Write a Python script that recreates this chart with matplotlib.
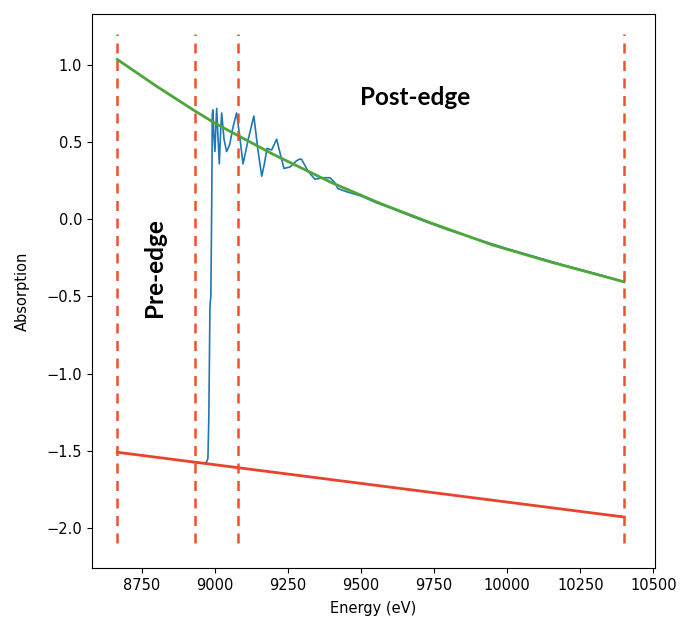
import numpy as np
import matplotlib.pyplot as plt

plt.rcParams['font.family'] = ['DejaVu Sans']

# region limits (eV)
edges = [8667, 8933, 9079, 10400]

# pre-edge line (two ends)
pre_x = [8667, 10400]
pre_y = [-1.51, -1.93]

# post-edge curve
post_x = [8667, 8800, 8935, 9007, 9200, 9400, 9564, 9735, 9950, 10146, 10400]
post_y = [1.037, 0.865, 0.70, 0.617, 0.422, 0.238, 0.105, -0.02, -0.166, -0.275, -0.405]

# measured spectrum
spec_x = [8935, 8960, 8972, 8977, 8980, 8984, 8987, 8990, 8992, 8994, 8997, 9001,
          9004, 9007, 9011, 9016, 9020, 9024, 9032, 9041, 9046, 9052, 9063, 9075,
          9085, 9097, 9115, 9134, 9148, 9161, 9170, 9179, 9195, 9212, 9225, 9237,
          9258, 9280, 9290, 9297, 9320, 9343, 9370, 9394, 9410, 9421, 9450, 9503,
          9550, 9600, 9700, 9800, 9900, 10000, 10100, 10200, 10300, 10400]
spec_y = [-1.575, -1.58, -1.575, -1.55, -1.3, -0.56, -0.5, 0.1, 0.68, 0.71, 0.55, 0.44,
          0.6, 0.72, 0.55, 0.36, 0.55, 0.69, 0.52, 0.44, 0.46, 0.49, 0.6, 0.69,
          0.55, 0.36, 0.52, 0.67, 0.45, 0.28, 0.36, 0.46, 0.45, 0.52, 0.42, 0.33,
          0.34, 0.38, 0.39, 0.39, 0.31, 0.26, 0.27, 0.27, 0.24, 0.20, 0.18, 0.15,
          0.11, 0.075, 0.0, -0.07, -0.13, -0.19, -0.245, -0.3, -0.35, -0.405]

fig = plt.figure(figsize=(6.8, 6.2), dpi=100)
ax = fig.add_axes([0.135, 0.084, 0.828, 0.893])

ax.plot(spec_x, spec_y, color='#1f77b4', lw=1.2)
ax.plot(pre_x, pre_y, color='#e8432d', lw=2)
ax.plot(post_x, post_y, color='#4ca63a', lw=2)
for e in edges:
    ax.plot([e, e], [-2.1, 1.2], color='#f0502a', ls='--', lw=1.8, dashes=(4, 3))

ax.text(9684, 0.79, 'Post-edge', fontsize=17.5, fontweight='bold', family=['Lato'],
        ha='center', va='center')
ax.text(8796, -0.31, 'Pre-edge', fontsize=17.5, fontweight='bold', family=['Lato'],
        ha='center', va='center', rotation=90)

ax.set_xlim(8580, 10505)
ax.set_ylim(-2.26, 1.33)
ax.set_xticks([8750, 9000, 9250, 9500, 9750, 10000, 10250, 10500])
ax.set_yticks([-2.0, -1.5, -1.0, -0.5, 0.0, 0.5, 1.0])
ax.tick_params(labelsize=10.5)
ax.set_xlabel('Energy (eV)', fontsize=10.5, labelpad=6)
ax.set_ylabel('Absorption', fontsize=10.5, labelpad=12)

plt.savefig('out.png', dpi=100)
